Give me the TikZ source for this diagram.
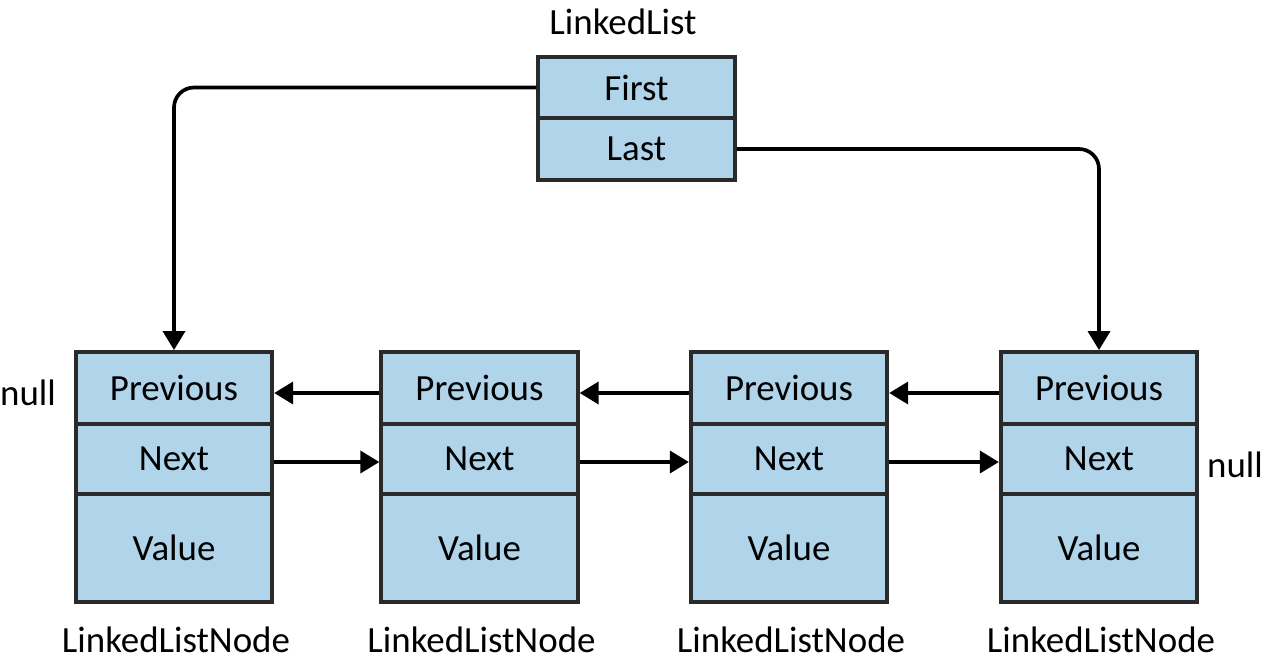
\documentclass[tikz,border=0pt]{standalone}
\usepackage{fontspec}
\setmainfont{Carlito}
\usepackage{xcolor}
\usetikzlibrary{positioning,arrows.meta}
\definecolor{cellblue}{HTML}{B0D4EA}
\definecolor{edgegray}{HTML}{2A2A2A}
\tikzset{
    cell/.style={draw=edgegray, fill=cellblue, line width=2.2pt, minimum width=3.93cm, inner sep=0pt},
    link/.style={line width=2.1pt, -{Triangle[length=0.38cm,width=0.44cm]}},
    lbl/.style={inner sep=0pt}
}
\begin{document}
\begin{tikzpicture}[x=0.02cm, y=-0.02cm, font=\fontsize{21}{25}\selectfont]
    \useasboundingbox (0,0) rectangle (1263,666);

    % LinkedList head
    \node[lbl] (headlbl) at (623, 22) {LinkedList};
    \node[cell, minimum height=1.22cm] (first) at (636.5, 87.5) {First};
    \node[cell, minimum height=1.24cm] (last) at (636.5, 149) {Last};

    % List nodes
    \foreach \i/\x in {1/174, 2/479.5, 3/789, 4/1099} {
        \node[cell, minimum height=1.44cm] (n\i prev) at (\x, 388) {Previous};
        \node[cell, minimum height=1.40cm] (n\i next) at (\x, 459) {Next};
        \node[cell, minimum height=2.16cm] (n\i val) at (\x, 548) {Value};
        \node[lbl] (n\i lbl) at (\x+2, 640) {LinkedListNode};
    }

    % null ends
    \node[lbl] (nullleft) at (28, 393) {null};
    \node[lbl] (nullright) at (1235, 465) {null};

    % Next and Previous links
    \foreach \i/\j in {1/2, 2/3, 3/4} {
        \draw[link] ([yshift=-0.1cm]n\j prev.west) -- ([yshift=-0.1cm]n\i prev.east);
        \draw[link] ([yshift=-0.06cm]n\i next.east) -- ([yshift=-0.06cm]n\j next.west);
    }

    % First and Last links
    \draw[link, rounded corners=0.4cm] (first.west) -| (n1prev.north);
    \draw[link, rounded corners=0.4cm] (last.east) -| (n4prev.north);

\end{tikzpicture}
\end{document}
